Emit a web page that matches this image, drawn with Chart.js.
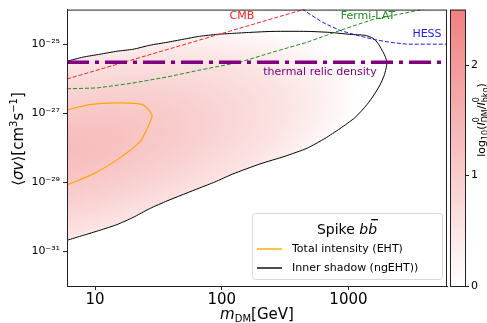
<!DOCTYPE html>
<html>
<head>
<meta charset="utf-8">
<script src="https://cdn.jsdelivr.net/npm/chart.js@4"></script>
<style>
  html, body { margin: 0; padding: 0; background: #fff; }
  #wrap { width: 487px; height: 323px; }
</style>
</head>
<body>
<div id="wrap"><canvas id="chart" width="487" height="323"></canvas></div>
<script>
// axis ticks
var xTicks = [10, 100, 1000];
var yTicks = [1e-25, 1e-27, 1e-29, 1e-31];
var cbTicks = [0, 1, 2];
var cbMax = 2.5;

// inner shadow (ngEHT) contour
var shadowX = [6, 8, 10.9, 14.9, 19.9, 27.1, 37, 49.4, 67, 91.6, 122, 167, 254, 471, 714, 1028, 1352, 1563, 1711, 1841, 1945, 2015, 1977, 1909, 1775, 1591, 1400, 1127, 858, 653, 471, 316, 200, 122, 88, 67, 37, 27, 19.9, 14.9, 10.9, 8, 6];
var shadowY = [3.2e-26, 4.2e-26, 5.1e-26, 6.25e-26, 7.1e-26, 9.3e-26, 1.13e-25, 1.38e-25, 1.69e-25, 1.92e-25, 2.05e-25, 2.19e-25, 2.34e-25, 2.34e-25, 2.19e-25, 1.92e-25, 1.8e-25, 1.48e-25, 1.06e-25, 6.7e-26, 4.5e-26, 3.0e-26, 1.9e-26, 1.2e-26, 6.6e-27, 3.4e-27, 1.77e-27, 7.5e-28, 3.6e-28, 1.87e-28, 9.7e-29, 5.7e-29, 3.4e-29, 1.74e-29, 1.02e-29, 6.9e-30, 2.9e-30, 1.74e-30, 9.6e-31, 6.0e-31, 4.1e-31, 2.9e-31, 2.1e-31];

// total intensity (EHT) contour
var totalX = [6, 9.3, 14.9, 23.5, 28.1, 26.6, 22.6, 15.2, 9.6, 6];
var totalY = [1.25e-27, 1.8e-27, 2.0e-27, 1.8e-27, 9.1e-28, 4.7e-28, 1.5e-28, 4.7e-29, 1.73e-29, 8.4e-30];

// limits
var cmbX = [6, 600];
var cmbY = [9.8e-27, 1.4e-24];
var fermiX = [6, 10.4, 19.9, 37, 67, 139, 254, 471, 858, 1563, 3800, 4500];
var fermiY = [5.1e-27, 5.4e-27, 7.5e-27, 1.12e-26, 1.78e-26, 3.0e-26, 5.9e-26, 1.13e-25, 2.5e-25, 5.2e-25, 1.0e-24, 1.3e-24];
var hessX = [358, 437, 630, 858, 1167, 1563, 2130, 2900, 4170, 6000];
var hessY = [1.6e-24, 1.0e-24, 4.2e-25, 2.5e-25, 1.8e-25, 1.38e-25, 1.13e-25, 1.0e-25, 1.0e-25, 1.0e-25];
var relicX = [6, 6000];
var relicY = [3e-26, 3e-26];

// log10(I_DM/I_bkg) field, read along its long axis
var fieldCenter = [5.5, 8e-29];
var fieldTip = [1480, 8.1e-27];
var fieldHalfWidthDecades = 3.3;
var fieldStops = [0, 0.2, 0.45, 0.72, 0.9, 1];
var fieldValues = [1.3, 1.2, 0.93, 0.55, 0.18, 0];

var notes = [
  { text: 'CMB', x: 144, y: 6.3e-25, color: '#ff2020' },
  { text: 'Fermi-LAT', x: 1426, y: 6.3e-25, color: '#1f8f1f' },
  { text: 'HESS', x: 4170, y: 1.9e-25, color: '#1a1aff' },
  { text: 'thermal relic density', x: 596, y: 1.55e-26, color: '#800080' }
];

var FONT = '"DejaVu Sans", sans-serif';

function pts(xs, ys) {
  var out = [];
  for (var i = 0; i < xs.length; i++) out.push({ x: xs[i], y: ys[i] });
  return out;
}

function cmap(v) {
  var t = Math.max(0, Math.min(1, v / cbMax));
  return 'rgb(' + Math.round(255 - 15 * t) + ',' + Math.round(255 - 127 * t) + ',' + Math.round(255 - 127 * t) + ')';
}

var supMap = { '-': '\u207B', '0': '\u2070', '1': '\u00B9', '2': '\u00B2', '3': '\u00B3', '4': '\u2074', '5': '\u2075', '6': '\u2076', '7': '\u2077', '8': '\u2078', '9': '\u2079' };
function sup(n) {
  return String(n).split('').map(function (c) { return supMap[c]; }).join('');
}

// draws a run of text pieces; piece: {t, s, it, dy} or {sup, sub, s}
function rich(ctx, parts, x, y, align) {
  function font(p) { return (p.it ? 'italic ' : '') + p.s + 'px ' + FONT; }
  var w = 0;
  parts.forEach(function (p) {
    if (p.sup !== undefined) {
      ctx.font = p.s + 'px ' + FONT;
      p.w = Math.max(ctx.measureText(p.sup).width, ctx.measureText(p.sub).width);
    } else {
      ctx.font = font(p);
      p.w = ctx.measureText(p.t).width;
    }
    w += p.w;
  });
  var cx = align === 'center' ? x - w / 2 : x;
  ctx.textAlign = 'left';
  ctx.textBaseline = 'alphabetic';
  parts.forEach(function (p) {
    if (p.sup !== undefined) {
      ctx.font = p.s + 'px ' + FONT;
      ctx.fillText(p.sup, cx, y - p.s * 0.75);
      ctx.fillText(p.sub, cx, y + p.s * 0.35);
    } else {
      ctx.font = font(p);
      ctx.fillText(p.t, cx, y + (p.dy || 0));
    }
    cx += p.w;
  });
  return w;
}

var fieldPlugin = {
  id: 'field',
  beforeDatasetsDraw: function (chart) {
    var ctx = chart.ctx, a = chart.chartArea;
    var xs = chart.scales.x, ys = chart.scales.y;
    var cx = xs.getPixelForValue(fieldCenter[0]), cy = ys.getPixelForValue(fieldCenter[1]);
    var tx = xs.getPixelForValue(fieldTip[0]), ty = ys.getPixelForValue(fieldTip[1]);
    var major = Math.hypot(tx - cx, ty - cy);
    var minor = Math.abs(cy - ys.getPixelForValue(fieldCenter[1] * Math.pow(10, fieldHalfWidthDecades)));
    var ang = Math.atan2(ty - cy, tx - cx);
    ctx.save();
    ctx.beginPath();
    ctx.rect(a.left, a.top, a.right - a.left, a.bottom - a.top);
    ctx.clip();
    // the field only lives inside the inner shadow contour
    ctx.beginPath();
    for (var k = 0; k < shadowX.length; k++) {
      var px = xs.getPixelForValue(shadowX[k]), py = ys.getPixelForValue(shadowY[k]);
      if (k === 0) ctx.moveTo(px - 2, py); else ctx.lineTo(k === shadowX.length - 1 ? px - 2 : px, py);
    }
    ctx.closePath();
    ctx.clip();
    ctx.translate(cx, cy);
    ctx.rotate(ang);
    ctx.scale(1, minor / major);
    var g = ctx.createRadialGradient(0, 0, 0, 0, 0, major);
    for (var i = 0; i < fieldStops.length; i++) {
      var c = cmap(fieldValues[i]);
      g.addColorStop(fieldStops[i], fieldValues[i] <= 0 ? 'rgba(255,255,255,0)' : c);
    }
    ctx.fillStyle = g;
    ctx.fillRect(-major * 1.2, -major * 1.2, major * 2.4, major * 2.4);
    ctx.restore();
  }
};

var decoPlugin = {
  id: 'deco',
  afterDatasetsDraw: function (chart) {
    var ctx = chart.ctx, a = chart.chartArea;
    var xs = chart.scales.x, ys = chart.scales.y;
    ctx.save();
    // annotations
    ctx.font = '11px ' + FONT;
    ctx.textAlign = 'center';
    ctx.textBaseline = 'middle';
    notes.forEach(function (n) {
      ctx.fillStyle = n.color;
      ctx.fillText(n.text, xs.getPixelForValue(n.x), ys.getPixelForValue(n.y));
    });
    // frame
    ctx.strokeStyle = '#222';
    ctx.lineWidth = 1;
    ctx.strokeRect(a.left + 0.5, a.top + 0.5, a.right - a.left - 1, a.bottom - a.top);

    // legend
    var lw = 190, lh = 66;
    var lx = a.right - 5 - lw, ly = a.bottom - 7 - lh;
    ctx.beginPath();
    ctx.roundRect(lx + 0.5, ly + 0.5, lw, lh, 3);
    ctx.fillStyle = 'rgba(255,255,255,0.85)';
    ctx.fill();
    ctx.strokeStyle = '#d8d8d8';
    ctx.stroke();
    ctx.fillStyle = '#000';
    var tw = rich(ctx, [{ t: 'Spike ', s: 14 }, { t: 'bb', s: 14, it: true }], lx + lw / 2, ly + 21, 'center');
    ctx.font = 'italic 14px ' + FONT;
    var bw = ctx.measureText('b').width;
    var bx = lx + lw / 2 + tw / 2 - bw + 1;
    ctx.fillRect(bx + 2, ly + 6, bw - 2, 1.3);
    var items = chart.data.datasets.filter(function (d) { return d.inLegend; });
    items.forEach(function (d, i) {
      var yy = ly + 36 + i * 19;
      ctx.strokeStyle = d.borderColor;
      ctx.lineWidth = 1.4;
      ctx.setLineDash([]);
      ctx.beginPath();
      ctx.moveTo(lx + 5, yy);
      ctx.lineTo(lx + 30, yy);
      ctx.stroke();
      ctx.fillStyle = '#000';
      ctx.font = '11px ' + FONT;
      ctx.textAlign = 'left';
      ctx.textBaseline = 'middle';
      ctx.fillText(d.label, lx + 40, yy);
    });
    ctx.lineWidth = 1;

    // colorbar
    var bx0 = a.right + 3, bx1 = a.right + 18;
    var grad = ctx.createLinearGradient(0, a.bottom, 0, a.top);
    grad.addColorStop(0, cmap(0));
    grad.addColorStop(1, cmap(cbMax));
    ctx.fillStyle = grad;
    ctx.fillRect(bx0, a.top, bx1 - bx0, a.bottom - a.top);
    ctx.strokeStyle = '#222';
    ctx.strokeRect(bx0 + 0.5, a.top + 0.5, bx1 - bx0, a.bottom - a.top);
    ctx.fillStyle = '#000';
    ctx.font = '11px ' + FONT;
    ctx.textAlign = 'left';
    ctx.textBaseline = 'middle';
    cbTicks.forEach(function (v) {
      var py = Math.round(a.bottom - (a.bottom - a.top) * v / cbMax) + 0.5;
      ctx.beginPath();
      ctx.moveTo(bx1, py);
      ctx.lineTo(bx1 + 4, py);
      ctx.stroke();
      ctx.fillText(String(v), bx1 + 6, py);
    });
    // colorbar label
    ctx.save();
    ctx.translate(481, 120);
    ctx.rotate(-Math.PI / 2);
    rich(ctx, [{ t: 'log', s: 11 }, { t: '10', s: 8, dy: 3 }, { t: '(', s: 11 }, { t: 'I', s: 11, it: true },
      { sup: '0', sub: 'DM', s: 8 }, { t: '/', s: 11 }, { t: 'I', s: 11, it: true }, { sup: '0', sub: 'bkg', s: 8 }, { t: ')', s: 11 }], 0, 4, 'center');
    ctx.restore();

    // axis titles
    rich(ctx, [{ t: 'm', s: 15, it: true }, { t: 'DM', s: 10, dy: 3 }, { t: '[GeV]', s: 15 }], (a.left + a.right) / 2, 319, 'center');
    ctx.save();
    ctx.translate(23, 139);
    ctx.rotate(-Math.PI / 2);
    rich(ctx, [{ t: '\u27E8', s: 15 }, { t: '\u03C3v', s: 15, it: true }, { t: '\u27E9[cm', s: 15 }, { t: '3', s: 10, dy: -6 },
      { t: 's', s: 15 }, { t: '\u22121', s: 10, dy: -6 }, { t: ']', s: 15 }], 0, 0, 'center');
    ctx.restore();
    ctx.restore();
  }
};

var ctx = document.getElementById('chart').getContext('2d');
new Chart(ctx, {
  type: 'scatter',
  data: {
    datasets: [
      { label: 'thermal relic', data: pts(relicX, relicY), borderColor: '#800080', borderWidth: 3.5, borderDash: [22, 6, 4, 6], borderCapStyle: 'butt' },
      { label: 'CMB', data: pts(cmbX, cmbY), borderColor: '#ff2020', borderWidth: 1, borderDash: [4, 2] },
      { label: 'Fermi-LAT', data: pts(fermiX, fermiY), borderColor: '#1f8f1f', borderWidth: 1, borderDash: [4, 2] },
      { label: 'HESS', data: pts(hessX, hessY), borderColor: '#1a1aff', borderWidth: 1, borderDash: [4, 2] },
      { label: 'Total intensity (EHT)', data: pts(totalX, totalY), borderColor: '#ffa500', borderWidth: 1.2, tension: 0.25, inLegend: true },
      { label: 'Inner shadow (ngEHT))', data: pts(shadowX, shadowY), borderColor: '#000000', borderWidth: 1, tension: 0.2, inLegend: true }
    ].map(function (d) { d.showLine = true; d.pointRadius = 0; d.fill = false; if (d.tension === undefined) d.tension = 0; return d; })
  },
  options: {
    responsive: false,
    animation: false,
    layout: { padding: { left: 0, right: 40, top: 7, bottom: 0 } },
    plugins: { legend: { display: false }, tooltip: { enabled: false } },
    scales: {
      x: {
        type: 'logarithmic', min: 6, max: 6000,
        afterBuildTicks: function (s) { s.ticks = xTicks.map(function (v) { return { value: v }; }); },
        afterFit: function (s) { s.height = 37; },
        ticks: { font: { size: 15, family: FONT }, color: '#000', padding: 1, maxRotation: 0, autoSkip: false,
          callback: function (v) { return String(v); } },
        grid: { drawOnChartArea: false, tickLength: 4, color: '#222' },
        border: { color: '#222' }
      },
      y: {
        type: 'logarithmic', min: 1e-32, max: 1e-24,
        afterBuildTicks: function (s) { s.ticks = yTicks.map(function (v) { return { value: v }; }); },
        afterFit: function (s) { s.width = 67; },
        ticks: { font: { size: 11, family: FONT }, color: '#000', padding: 3, autoSkip: false,
          callback: function (v) { return '10' + sup(Math.round(Math.log10(v))); } },
        grid: { drawOnChartArea: false, tickLength: 4, color: '#222' },
        border: { color: '#222' }
      }
    }
  },
  plugins: [fieldPlugin, decoPlugin]
});
</script>
</body>
</html>
